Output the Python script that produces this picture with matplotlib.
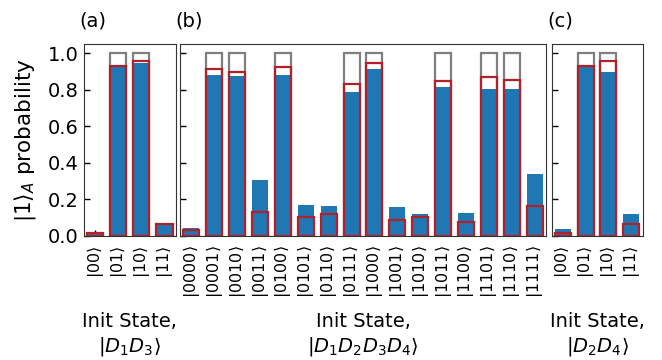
import numpy as np
import matplotlib.pyplot as plt

# panel (a): init state |D1 D3>
states_a = ['00', '01', '10', '11']
meas_a = [0.022, 0.925, 0.950, 0.057]
sim_a = [0.016, 0.933, 0.956, 0.066]
ideal_a = [0, 1, 1, 0]

# panel (b): init state |D1 D2 D3 D4>
states_b = ['0000', '0001', '0010', '0011', '0100', '0101', '0110', '0111',
            '1000', '1001', '1010', '1011', '1100', '1101', '1110', '1111']
meas_b = [0.044, 0.881, 0.876, 0.305, 0.881, 0.168, 0.163, 0.788,
          0.914, 0.157, 0.119, 0.815, 0.124, 0.804, 0.804, 0.338]
sim_b = [0.030, 0.912, 0.897, 0.130, 0.923, 0.104, 0.121, 0.830,
         0.947, 0.084, 0.101, 0.850, 0.077, 0.870, 0.855, 0.164]
ideal_b = [0, 1, 1, 0, 1, 0, 0, 1, 1, 0, 0, 1, 0, 1, 1, 0]

# panel (c): init state |D2 D4>
states_c = ['00', '01', '10', '11']
meas_c = [0.037, 0.925, 0.897, 0.120]
sim_c = [0.017, 0.930, 0.956, 0.066]
ideal_c = [0, 1, 1, 0]

panels = [
    ('(a)', states_a, meas_a, sim_a, ideal_a, 'Init State,\n$|D_1D_3\\rangle$'),
    ('(b)', states_b, meas_b, sim_b, ideal_b, 'Init State,\n$|D_1D_2D_3D_4\\rangle$'),
    ('(c)', states_c, meas_c, sim_c, ideal_c, 'Init State,\n$|D_2D_4\\rangle$'),
]

fig = plt.figure(figsize=(6.62, 3.6), dpi=100)
rects = [
    [83.5 / 662, 124.3 / 360, 92.5 / 662, 191.4 / 360],
    [180 / 662, 124.3 / 360, 366 / 662, 191.4 / 360],
    [551.5 / 662, 124.3 / 360, 91 / 662, 191.4 / 360],
]

w = 0.7
for i, (tag, states, meas, sim, ideal, xlab) in enumerate(panels):
    ax = fig.add_axes(rects[i])
    x = np.arange(len(states))
    ax.bar(x, ideal, width=w, facecolor='none', edgecolor='#7f7f7f', linewidth=1.6, zorder=1)
    ax.bar(x, meas, width=w, color='#1f77b4', linewidth=0, zorder=2)
    ax.bar(x, sim, width=w, facecolor='none', edgecolor='#b2202a', linewidth=1.6, zorder=3)
    ax.set_xlim(-0.5, len(states) - 0.5)
    ax.set_ylim(0, 1.05)
    ax.set_yticks([0, 0.2, 0.4, 0.6, 0.8, 1.0])
    ax.set_xticks(x)
    ax.set_xticklabels(['$|' + s + '\\rangle$' for s in states], rotation=90, fontsize=11.5)
    ax.tick_params(direction='in', length=4, width=1)
    ax.tick_params(axis='y', labelsize=14)
    ax.tick_params(axis='x', pad=7)
    for sp in ax.spines.values():
        sp.set_color('#333333')
    if i == 0:
        ax.set_ylabel('$|1\\rangle_A$ probability', fontsize=15.5, labelpad=7)
    else:
        ax.set_yticklabels([])
    ax.set_xlabel(xlab, fontsize=14)
    ax.xaxis.set_label_coords(0.5, -0.40)
    ax.annotate(tag, xy=(0, 1), xycoords='axes fraction', xytext=(-3, 10),
                textcoords='offset points', va='bottom', ha='left', fontsize=14)

fig.savefig('out.png', dpi=100)
